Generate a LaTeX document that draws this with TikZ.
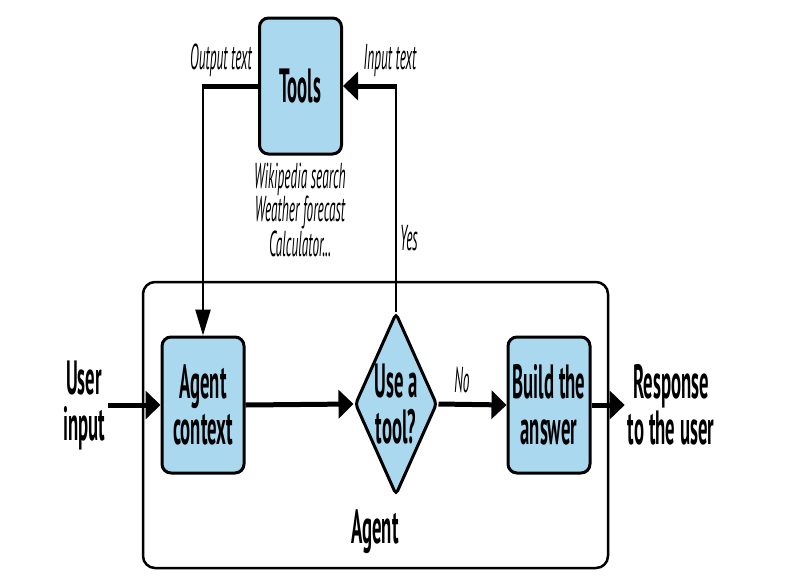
\documentclass[tikz,border=0pt]{standalone}
\usepackage{fontspec}
\setmainfont{PT Sans}[FakeStretch=0.42]
\newfontfamily\boldcond{PT Sans Bold}[FakeStretch=0.39]
\newfontfamily\itcond{PT Sans Italic}[FakeStretch=0.37]
\usetikzlibrary{arrows.meta,shapes.geometric}
\definecolor{boxblue}{RGB}{170,216,239}
\newcommand\bigfont{\boldcond\fontsize{48}{46}\selectfont}
\newcommand\smallit{\itcond\fontsize{36}{32}\selectfont}
\begin{document}
\begin{tikzpicture}[x=1pt,y=-1pt,
  box/.style={draw, line width=3pt, fill=boxblue, rounded corners=9pt,
    minimum width=82pt, minimum height=136pt, inner sep=0pt, align=center, font=\bigfont},
  dia/.style={shape=diamond, draw, line width=3pt, fill=boxblue, rounded corners=4pt,
    minimum width=82pt, minimum height=182pt, inner sep=0pt},
  frame/.style={draw, line width=2.5pt, rounded corners=12pt},
  flow/.style={line width=5pt, -{Triangle[length=15pt,width=28pt]}},
  thickline/.style={line width=5pt},
  thinline/.style={line width=2.5pt},
  thinarrow/.style={line width=2.5pt, -{Triangle[length=26pt,width=15pt]}},
  lbl/.style={font=\bigfont, align=center},
  itl/.style={font=\smallit, align=center}]
\useasboundingbox (0,0) rectangle (800,579);
% frame
\draw[frame] (143,282) rectangle (608,568);
\node[lbl, anchor=base] (agentlbl) at (375,543) {Agent};
% nodes
\node[box] (tools) at (300.5,86) {Tools};
\node[box] (ctx) at (203,405) {Agent\\context};
\node[dia] (dec) at (396,404) {};
\node[lbl] (dectext) at (dec) {Use a\\tool?};
\node[box] (build) at (549,405) {Build the\\answer};
\node[lbl, inner sep=3pt] (user) at (84,405) {User\\input};
\node[lbl, inner sep=3pt] (resp) at (671,405) {Response\\to the user};
% labels
\node[itl, anchor=base] (outlbl) at (221,69) {Output text};
\node[itl, anchor=base] (inlbl) at (390,69) {Input text};
\node[itl, anchor=base] (toollist) at (300,256) {Wikipedia search\\Weather forecast\\Calculator...};
\node[itl, anchor=base] (yes) at (409,250) {Yes};
\node[itl, anchor=base] (no) at (462,392) {No};
% coordinates
\coordinate (tr) at (dec.north |- tools.east);
\coordinate (tl) at (ctx.north |- tools.west);
% connectors
\draw[flow] (user.east |- ctx.west) -- (ctx.west);
\draw[flow] (ctx.east) -- (dec.west);
\draw[flow] (dec.east) -- (build.west);
\draw[flow] (build.east) -- (resp.west |- build.east);
\draw[thinline] (dec.north) -- ([yshift=-2.5pt]tr);
\draw[flow] ([xshift=1.25pt]tr) -- (tools.east);
\draw[thickline] (tools.west) -- ([xshift=-1.25pt]tl);
\draw[thinarrow] ([yshift=-2.5pt]tl) -- (ctx.north);
\end{tikzpicture}
\end{document}
